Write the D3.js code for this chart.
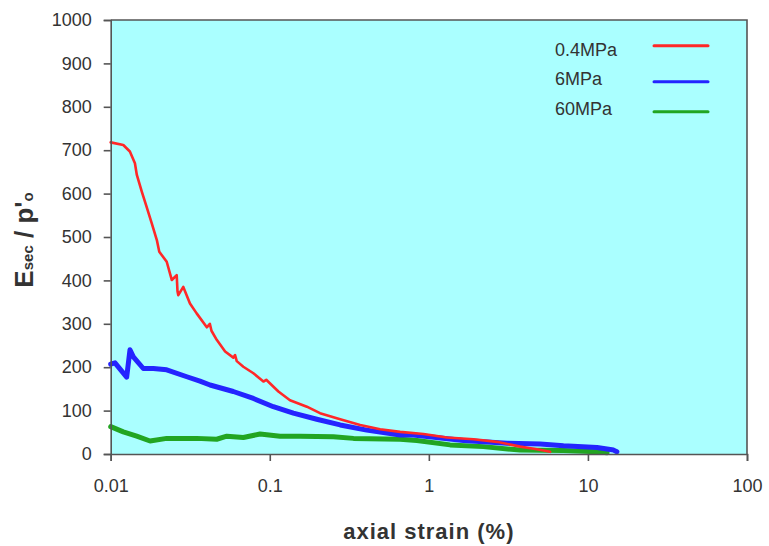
<!DOCTYPE html>
<html>
<head>
<meta charset="utf-8">
<script src="https://cdn.jsdelivr.net/npm/d3@7"></script>
<style>
  html, body { margin: 0; padding: 0; background: #ffffff; }
  svg { display: block; }
  text { font-family: "Liberation Sans", Arial, sans-serif; }
</style>
</head>
<body>
<svg id="chart" width="769" height="546"></svg>
<script>
// Secant stiffness normalised by initial effective stress, against axial strain

const seriesNames = ["0.4MPa", "6MPa", "60MPa"];
const seriesColors = ["#ff2828", "#2424ff", "#22a522"];

// axial strain (%) and Esec/p'o for each confining stress
const strain04 = [0.01, 0.0120, 0.0132, 0.0142, 0.0146, 0.0157, 0.0168, 0.0181, 0.0195, 0.0202, 0.0225,
  0.0242, 0.0260, 0.0263, 0.0266, 0.0286, 0.0315, 0.0347, 0.0402, 0.0420, 0.0430, 0.0464, 0.0524,
  0.0590, 0.0605, 0.0620, 0.0682, 0.0789, 0.0912, 0.0950, 0.1133, 0.134, 0.171, 0.207, 0.277, 0.370,
  0.494, 0.66, 0.925, 1.30, 1.91, 2.68, 3.75, 4.78, 5.79];
const value04 = [718, 712, 697, 670, 643, 604, 570, 532, 493, 466, 443,
  401, 412, 375, 366, 385, 347, 324, 292, 300, 284, 263, 236,
  222, 228, 214, 201, 186, 167, 171, 144, 124, 109, 94, 80, 67,
  57, 51, 46, 38, 34, 28, 17, 11, 5];

const strain6 = [0.01, 0.01064, 0.0126, 0.01322, 0.01388, 0.01603, 0.01853, 0.0225, 0.0301, 0.0364,
  0.0421, 0.059, 0.0789, 0.1053, 0.1407, 0.1975, 0.277, 0.407, 0.66, 0.80, 1.65, 3.10, 5.01, 7.02,
  11.4, 14.5, 15.2];
const value6 = [207, 210, 177, 240, 224, 197, 197, 194, 178, 168,
  159, 144, 128, 109, 94, 80, 67, 55, 44, 44, 31, 25, 23, 19,
  15, 9, 5];

const strain60 = [0.01, 0.0120, 0.01457, 0.01767, 0.0225, 0.0347, 0.0464, 0.0537, 0.0682, 0.0869,
  0.116, 0.155, 0.251, 0.336, 0.66, 0.84, 1.36, 2.20, 3.75, 7.02, 11.4, 13.2];
const value60 = [63, 51, 41, 30, 36, 36, 34, 41, 38, 46,
  41, 41, 40, 36, 34, 31, 21, 17, 9, 8, 5, 3];

const xTicks = [0.01, 0.1, 1, 10, 100];
const xTickLabels = ["0.01", "0.1", "1", "10", "100"];
const yTicks = [0, 100, 200, 300, 400, 500, 600, 700, 800, 900, 1000];

const svg = d3.select("#chart");
const plot = { left: 110.7, right: 747, top: 20, bottom: 454 };

const x = d3.scaleLog().domain([0.01, 100]).range([plot.left, plot.right]);
const y = d3.scaleLinear().domain([0, 1000]).range([plot.bottom, plot.top]);

// plot background
svg.append("rect")
  .attr("x", plot.left).attr("y", plot.top)
  .attr("width", plot.right - plot.left).attr("height", plot.bottom - plot.top)
  .attr("fill", "#aaffff");

// frame on top and right
svg.append("path")
  .attr("d", `M${plot.left},${plot.top}H${plot.right}V${plot.bottom}`)
  .attr("fill", "none").attr("stroke", "#555").attr("stroke-width", 1.6);

// curves
const series = [
  { name: seriesNames[0], color: seriesColors[0], xs: strain04, ys: value04, width: 2.6 },
  { name: seriesNames[1], color: seriesColors[1], xs: strain6, ys: value6, width: 5 },
  { name: seriesNames[2], color: seriesColors[2], xs: strain60, ys: value60, width: 5 }
];
const line = d3.line().x(d => x(d[0])).y(d => y(d[1]));
// draw green, blue, then red on top
[2, 1, 0].forEach(i => {
  const s = series[i];
  svg.append("path")
    .datum(s.xs.map((v, k) => [v, s.ys[k]]))
    .attr("d", line)
    .attr("fill", "none")
    .attr("stroke", s.color)
    .attr("stroke-width", s.width)
    .attr("stroke-linejoin", "round")
    .attr("stroke-linecap", "round");
});

// axes
const yAxis = d3.axisLeft(y).tickValues(yTicks).tickSize(7).tickPadding(12).tickFormat(d3.format("d"));
const xAxis = d3.axisBottom(x).tickValues(xTicks).tickSize(7).tickPadding(18)
  .tickFormat((d, i) => xTickLabels[i]);

const gy = svg.append("g").attr("transform", `translate(${plot.left},0)`).call(yAxis);
const gx = svg.append("g").attr("transform", `translate(0,${plot.bottom})`).call(xAxis);
[gx, gy].forEach(g => {
  g.select(".domain").attr("stroke", "#555").attr("stroke-width", 1.6);
  g.selectAll(".tick line").attr("stroke", "#555").attr("stroke-width", 1.6);
  g.selectAll(".tick text")
    .attr("fill", "#333")
    .style("font-size", "18px")
    .style("font-family", "'Liberation Sans', Arial, sans-serif");
});

// legend
const legend = svg.append("g");
series.forEach((s, i) => {
  const yy = [45.7, 81.7, 111.7][i];
  const ty = [56, 85, 115][i];
  legend.append("text")
    .attr("x", 555).attr("y", ty)
    .attr("fill", "#333")
    .style("font-size", "18px")
    .text(s.name);
  legend.append("line")
    .attr("x1", 654).attr("x2", 708)
    .attr("y1", yy).attr("y2", yy)
    .attr("stroke", s.color).attr("stroke-width", 3)
    .attr("stroke-linecap", "round");
});

// axis titles
svg.append("text")
  .attr("x", (plot.left + plot.right) / 2).attr("y", 539)
  .attr("text-anchor", "middle")
  .attr("fill", "#333")
  .style("font-size", "22px").style("font-weight", "bold").style("letter-spacing", "1px")
  .text("axial strain (%)");

const yt = svg.append("text")
  .attr("transform", "translate(33,240) rotate(-90)")
  .attr("text-anchor", "middle")
  .attr("fill", "#333")
  .style("font-size", "26px").style("font-weight", "bold");
yt.append("tspan").text("E");
yt.append("tspan").style("font-size", "15px").text("sec");
yt.append("tspan").text(" / p'");
yt.append("tspan").style("font-size", "15px").text("o");
</script>
</body>
</html>
